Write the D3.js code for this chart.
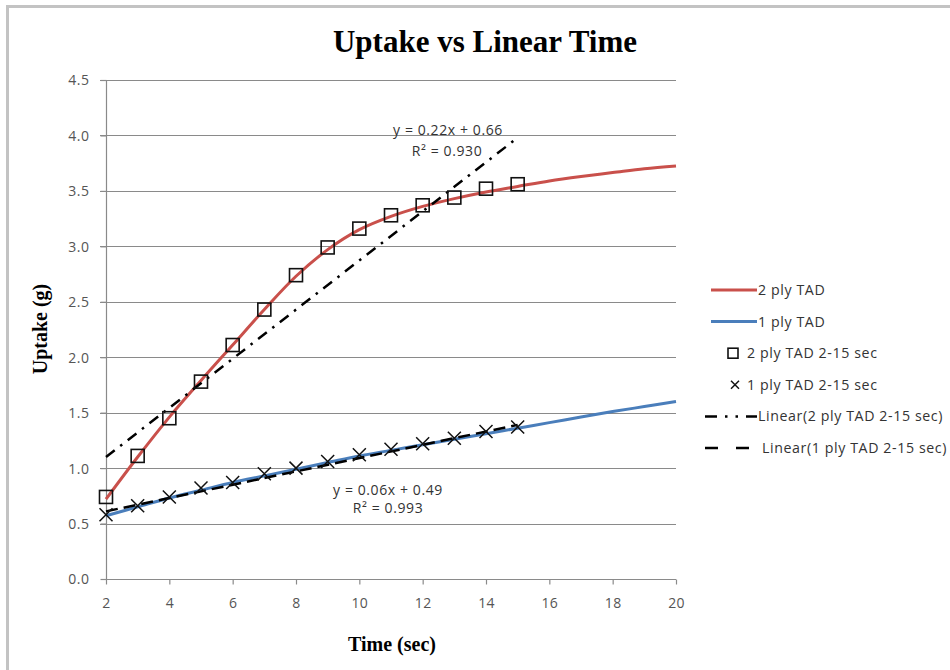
<!DOCTYPE html>
<html><head><meta charset="utf-8">
<script src="https://cdn.jsdelivr.net/npm/d3@7"></script>
<style>body{margin:0;background:#fff}svg{display:block}</style>
</head><body>
<svg id="c" width="950" height="670"></svg>
<script>
// ---- data ----
const modelX = [2,3,4,5,6,7,8,9,10,11,12,13,14,15,16,17,18,19,20];
const ply2Model = [0.72,1.10,1.46,1.79,2.11,2.43,2.73,2.97,3.15,3.27,3.36,3.43,3.49,3.54,3.59,3.63,3.665,3.70,3.725];
const ply1Model = [0.57,0.65,0.73,0.80,0.87,0.93,0.99,1.05,1.11,1.16,1.21,1.26,1.31,1.36,1.41,1.46,1.51,1.555,1.60];
const sampleX = [2,3,4,5,6,7,8,9,10,11,12,13,14,15];
const ply2Samples = [0.74,1.11,1.45,1.78,2.11,2.43,2.74,2.99,3.16,3.28,3.37,3.44,3.52,3.56];
const ply1Samples = [0.58,0.66,0.74,0.82,0.87,0.95,1.00,1.06,1.12,1.17,1.22,1.27,1.33,1.37];
const trendX = [2,15];
const ply2Trend = [1.10,3.98];
const ply1Trend = [0.61,1.39];
const xTicks = [2,4,6,8,10,12,14,16,18,20];
const yTicks = [0,0.5,1,1.5,2,2.5,3,3.5,4,4.5];
const legendLabels = ["2 ply TAD","1 ply TAD","2 ply TAD 2-15 sec","1 ply TAD 2-15 sec","Linear(2 ply TAD 2-15 sec)","Linear(1 ply TAD 2-15 sec)"];
const eq2 = ["y = 0.22x + 0.66","R² = 0.930"];
const eq1 = ["y = 0.06x + 0.49","R² = 0.993"];

// ---- drawing ----
const svg = d3.select("#c");
const x = d3.scaleLinear().domain([2,20]).range([106,676]);
const y = d3.scaleLinear().domain([0,4.5]).range([579,80]);
const RED = "#c9504b", BLUE = "#4a7ebb", GRID = "#8a8a8a", TXT = "#555";
const SANS = "'Open Sans',Lato,sans-serif";

// frame
svg.append("line").attr("x1",7).attr("x2",950).attr("y1",6.5).attr("y2",6.5).attr("stroke","#c3c3c3").attr("stroke-width",3);
svg.append("line").attr("x1",7.5).attr("x2",7.5).attr("y1",5).attr("y2",670).attr("stroke","#c3c3c3").attr("stroke-width",3);

// title
svg.append("text").attr("x",485).attr("y",52).attr("text-anchor","middle")
  .attr("font-family","'Liberation Serif','Times New Roman',serif").attr("font-weight","bold")
  .attr("font-size",31).attr("fill","#000").text("Uptake vs Linear Time");

// grid
svg.append("g").selectAll("line").data(yTicks.filter(d=>d>0)).join("line")
  .attr("x1",100).attr("x2",676).attr("y1",d=>Math.round(y(d))+0.5).attr("y2",d=>Math.round(y(d))+0.5)
  .attr("stroke",GRID).attr("stroke-width",1.2);

// y axis
const yAxis = d3.axisLeft(y).tickValues(yTicks).tickFormat(d3.format(".1f")).tickSize(6);
const ya = svg.append("g").attr("transform","translate(106.5,0)").call(yAxis);
ya.select(".domain").attr("stroke",GRID).attr("stroke-width",1.2).attr("d","M0,80V579");
ya.selectAll(".tick line").attr("stroke",GRID).attr("stroke-width",1.2);
ya.selectAll(".tick text").attr("fill",TXT).attr("font-family",SANS).attr("font-size",14).attr("letter-spacing",0.5).attr("dy","0.35em").attr("x",-17);

// x axis
const xAxis = d3.axisBottom(x).tickValues(xTicks).tickFormat(d3.format("d")).tickSize(5).tickPadding(14);
const xa = svg.append("g").attr("transform","translate(0,579.5)").call(xAxis);
xa.select(".domain").attr("stroke",GRID).attr("stroke-width",1.2).attr("d","M106,0H676");
xa.selectAll(".tick line").attr("stroke",GRID).attr("stroke-width",1.2);
xa.selectAll(".tick text").attr("fill",TXT).attr("font-family",SANS).attr("font-size",14).attr("letter-spacing",0.3);

// axis titles
svg.append("text").attr("x",392).attr("y",651).attr("text-anchor","middle")
  .attr("font-family","'Liberation Serif',serif").attr("font-weight","bold").attr("font-size",20).text("Time (sec)");
svg.append("text").attr("transform","translate(47,329) rotate(-90)").attr("text-anchor","middle")
  .attr("font-family","'Liberation Serif',serif").attr("font-weight","bold").attr("font-size",20).text("Uptake (g)");

// model curves
const line = d3.line().x(d=>x(d[0])).y(d=>y(d[1])).curve(d3.curveCatmullRom.alpha(0.5));
svg.append("path").datum(modelX.map((d,i)=>[d,ply2Model[i]])).attr("d",line).attr("fill","none").attr("stroke",RED).attr("stroke-width",3);
svg.append("path").datum(modelX.map((d,i)=>[d,ply1Model[i]])).attr("d",line).attr("fill","none").attr("stroke",BLUE).attr("stroke-width",3);

// trendlines
const tl = d3.line().x(d=>x(d[0])).y(d=>y(d[1]));
svg.append("path").datum(trendX.map((d,i)=>[d,ply2Trend[i]])).attr("d",tl).attr("fill","none")
  .attr("stroke","#000").attr("stroke-width",2.5).attr("stroke-dasharray","11,7,2.5,7");
svg.append("path").datum(trendX.map((d,i)=>[d,ply1Trend[i]])).attr("d",tl).attr("fill","none")
  .attr("stroke","#000").attr("stroke-width",2.5).attr("stroke-dasharray","12,6");

// markers
const sqS = 13;
svg.selectAll("rect.sq").data(sampleX.map((d,i)=>[d,ply2Samples[i]])).join("rect")
  .attr("x",d=>x(d[0])-sqS/2).attr("y",d=>y(d[1])-sqS/2).attr("width",sqS).attr("height",sqS)
  .attr("fill","none").attr("stroke","#111").attr("stroke-width",1.6);
const xs = 6.5;
svg.selectAll("path.cr").data(sampleX.map((d,i)=>[d,ply1Samples[i]])).join("path")
  .attr("d",d=>{const cx=x(d[0]),cy=y(d[1]);return `M${cx-xs},${cy-xs}L${cx+xs},${cy+xs}M${cx-xs},${cy+xs}L${cx+xs},${cy-xs}`;})
  .attr("stroke","#111").attr("stroke-width",1.5).attr("fill","none");

// equations
function eq(tx,ty,s){svg.append("text").attr("x",tx).attr("y",ty).attr("text-anchor","middle").attr("font-family",SANS).attr("font-size",14).attr("letter-spacing",0.6).attr("fill","#333").text(s);}
eq(448,135,eq2[0]); eq(447,156,eq2[1]);
eq(388,495,eq1[0]); eq(388,513,eq1[1]);

// legend
const lg = svg.append("g");
const ly = i => 290 + i*31.6;
function ltext(i,tx){lg.append("text").attr("x",tx).attr("y",ly(i)).attr("dy","0.35em").attr("font-family",SANS).attr("font-size",14.2).attr("letter-spacing",0.6).attr("fill","#333").text(legendLabels[i]);}
lg.append("line").attr("x1",711).attr("x2",757).attr("y1",ly(0)).attr("y2",ly(0)).attr("stroke",RED).attr("stroke-width",3); ltext(0,758);
lg.append("line").attr("x1",711).attr("x2",757).attr("y1",ly(1)).attr("y2",ly(1)).attr("stroke",BLUE).attr("stroke-width",3); ltext(1,758);
lg.append("rect").attr("x",733-5).attr("y",ly(2)-5).attr("width",10).attr("height",10).attr("fill","none").attr("stroke","#111").attr("stroke-width",1.6); ltext(2,747);
lg.append("path").attr("d",`M${735-4},${ly(3)-4}L${735+4},${ly(3)+4}M${735-4},${ly(3)+4}L${735+4},${ly(3)-4}`).attr("stroke","#111").attr("stroke-width",1.5); ltext(3,747);
lg.append("line").attr("x1",705).attr("x2",757).attr("y1",ly(4)).attr("y2",ly(4)).attr("stroke","#000").attr("stroke-width",2.5).attr("stroke-dasharray","12,8,2.5,8,2.5,8,12"); ltext(4,758);
lg.append("line").attr("x1",705).attr("x2",749).attr("y1",ly(5)).attr("y2",ly(5)).attr("stroke","#000").attr("stroke-width",2.5).attr("stroke-dasharray","13,18,13"); ltext(5,762);
</script>
</body></html>
